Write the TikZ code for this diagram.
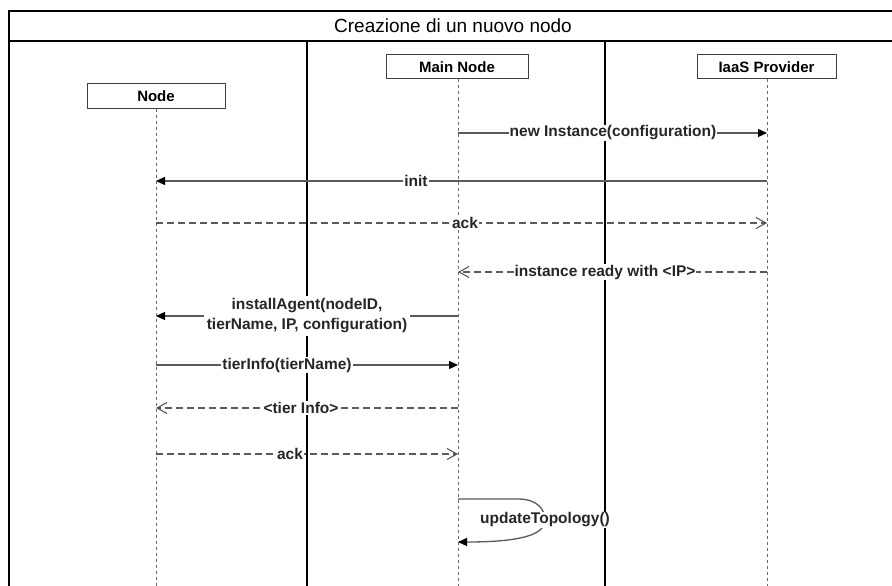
\documentclass[tikz,border=0pt]{standalone}
\usepackage{fontspec}
\setmainfont{Liberation Sans}
\usetikzlibrary{arrows.meta}
\definecolor{msg}{HTML}{5A5A5A}
\definecolor{life}{HTML}{6A6A6A}
\tikzset{
  frameline/.style={line width=2pt, black},
  actor/.style={draw=black!75, line width=1pt, minimum height=24pt, inner sep=0pt,
    font=\bfseries\fontsize{15}{17}\selectfont},
  lifeline/.style={draw=life, line width=0.9pt, dash pattern=on 3pt off 3pt},
  callmsg/.style={draw=msg, line width=1.3pt, -{Triangle[length=9pt,width=8pt,black]}},
  replymsg/.style={draw=msg, line width=1.3pt, dash pattern=on 7pt off 4pt,
    -{Straight Barb[length=10pt,width=11pt,black!70,line width=1pt]}},
  msglabel/.style={fill=white, inner sep=1pt, text=black!85,
    font=\bfseries\fontsize{15.5}{20}\selectfont, align=center},
}
\begin{document}
\begin{tikzpicture}[x=1pt,y=-1pt]
\useasboundingbox (0,0) rectangle (892,586);
\clip (0,0) rectangle (892,586);

% frame with title band and swimlane separators
\draw[frameline] (900,11) -- (9,11) -- (9,600);
\draw[frameline] (9,41) -- (900,41);
\draw[frameline] (307,41) -- (307,600);
\draw[frameline] (605,41) -- (605,600);
\node (title) at (453,26) {\fontsize{19}{22}\selectfont Creazione di un nuovo nodo};

% participants
\node[actor, minimum width=138pt] (node) at (156,96) {Node};
\node[actor, minimum width=142pt] (main) at (457,67) {Main Node};
\node[actor, minimum width=139pt] (iaas) at (766.5,67) {IaaS Provider};

% lifeline ends
\coordinate (nodeEnd) at (156,600);
\coordinate (mainEnd) at (458,600);
\coordinate (iaasEnd) at (767,600);
\draw[lifeline] (node.south) -- (nodeEnd);
\draw[lifeline] (main.south -| mainEnd) -- (mainEnd);
\draw[lifeline] (iaas.south -| iaasEnd) -- (iaasEnd);

% message anchor points on the lifelines
\foreach \y/\n in {133/a,181/b,223/c,272/d,316/e,365/f,408/g,454/h,499/i,542/j}{
  \coordinate (N\n) at (156,\y);
  \coordinate (M\n) at (458,\y);
  \coordinate (I\n) at (767,\y);
}

% messages
\draw[callmsg] (Ma) -- (Ia);
\node[msglabel] (l1) at (613,133) {new Instance(configuration)};

\draw[callmsg] (Ib) -- (Nb);
\node[msglabel] (l2) at (416,181) {init};

\draw[replymsg] (Nc) -- (Ic);
\node[msglabel] (l3) at (465,223) {ack};

\draw[replymsg] (Id) -- (Md);
\node[msglabel] (l4) at (605,272) {instance ready with <IP>};

\draw[callmsg] (Me) -- (Ne);
\node[msglabel, inner sep=3pt] (l5) at (307,316) {installAgent(nodeID,\\tierName, IP, configuration)};

\draw[callmsg] (Nf) -- (Mf);
\node[msglabel] (l6) at (287,365) {tierInfo(tierName)};

\draw[replymsg] (Mg) -- (Ng);
\node[msglabel] (l7) at (301,408) {<tier Info>};

\draw[replymsg] (Nh) -- (Mh);
\node[msglabel] (l8) at (290,454) {ack};

% self call on Main Node
\draw[callmsg] (Mi) -- (518,499) .. controls (538,499) and (545,510) .. (545,520)
  .. controls (545,535) and (520,542) .. (Mj);
\node[msglabel] (l9) at (545,520) {updateTopology()};
\end{tikzpicture}
\end{document}
